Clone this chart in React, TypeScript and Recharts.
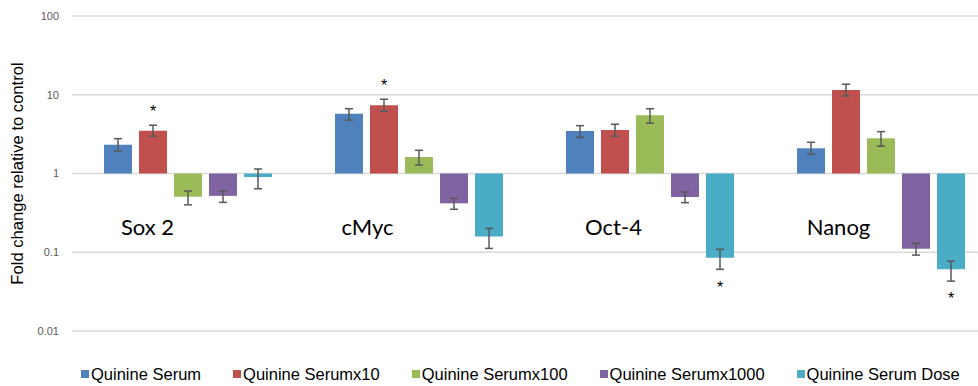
import React from 'react';
import {
  BarChart,
  Bar,
  XAxis,
  YAxis,
  CartesianGrid,
  ErrorBar,
  LabelList,
  Legend,
  ReferenceDot,
} from 'recharts';

// gene panels along the x axis
const genes = ['Sox 2', 'cMyc', 'Oct-4', 'Nanog'];

// fold change vs control, with lower / upper error limits
const serum = [2.32, 5.75, 3.46, 2.09];
const serumLow = [1.93, 4.74, 2.88, 1.75];
const serumHigh = [2.77, 6.65, 4.05, 2.49];

const serumX10 = [3.5, 7.35, 3.57, 11.5];
const serumX10Low = [2.97, 6.17, 2.97, 9.66];
const serumX10High = [4.1, 8.77, 4.22, 13.6];

const serumX100 = [0.507, 1.62, 5.49, 2.8];
const serumX100Low = [0.4, 1.28, 4.35, 2.22];
const serumX100High = [0.6, 1.97, 6.65, 3.4];

const serumX1000 = [0.52, 0.418, 0.503, 0.111];
const serumX1000Low = [0.43, 0.351, 0.426, 0.092];
const serumX1000High = [0.6, 0.484, 0.582, 0.13];

const serumDose = [0.9, 0.159, 0.085, 0.0607];
const serumDoseLow = [0.64, 0.112, 0.0607, 0.043];
const serumDoseHigh = [1.14, 0.201, 0.109, 0.077];

// significance marks
const serumX10Sig = ['*', '*', '', ''];
const serumDoseSig = ['', '', '*', '*'];

const yTicks = [0.01, 0.1, 1, 10, 100];

const series = [
  { key: 'serum', name: 'Quinine Serum', color: '#4f81bd', values: serum, low: serumLow, high: serumHigh },
  { key: 'x10', name: 'Quinine Serumx10', color: '#c0504d', values: serumX10, low: serumX10Low, high: serumX10High, sig: serumX10Sig },
  { key: 'x100', name: 'Quinine Serumx100', color: '#9bbb59', values: serumX100, low: serumX100Low, high: serumX100High },
  { key: 'x1000', name: 'Quinine Serumx1000', color: '#8064a2', values: serumX1000, low: serumX1000Low, high: serumX1000High },
  { key: 'dose', name: 'Quinine Serum Dose', color: '#4bacc6', values: serumDose, low: serumDoseLow, high: serumDoseHigh, sig: serumDoseSig },
];

// bars hang from 1 (no change), so each value is a [1, v] range
const chartData = genes.map((gene, i) => {
  const row: Record<string, any> = { gene };
  series.forEach((s) => {
    const v = s.values[i];
    row[s.key] = [1, v];
    row[`${s.key}Err`] = [v - s.low[i], s.high[i] - v];
    row[`${s.key}Sig`] = s.sig ? s.sig[i] : '';
  });
  return row;
});

// nudges for the gene captions, relative to each category centre
const geneLabelDx = [-40, -51, -36, -42];
const GENE_LABEL_Y = 0.2;

const SANS = '"Liberation Sans", Arial, sans-serif';

const StarLabel = (props: any) => {
  const { value } = props;
  if (!value) return null;
  const vb = props.viewBox || props;
  const x = vb.x + vb.width / 2;
  const top = Math.min(vb.y, vb.y + vb.height);
  const bottom = Math.max(vb.y, vb.y + vb.height);
  // bars below 1 get their star underneath
  const goesDown = vb.height < 0;
  const cy = goesDown ? bottom + 26 : top - 23;
  return (
    <text x={x} y={cy + 9} textAnchor="middle" fontSize={16} fontFamily={SANS} fill="#000">
      *
    </text>
  );
};

// legend keeps the series order instead of sorting by name
const LegendContent = () => (
  <div style={{ display: 'flex', gap: 32, fontFamily: SANS, fontSize: 16.5, lineHeight: '20px', color: '#000' }}>
    {series.map((s) => (
      <div key={s.key} style={{ display: 'flex', alignItems: 'center', whiteSpace: 'nowrap' }}>
        <span style={{ width: 8, height: 8, background: s.color, marginRight: 2, display: 'inline-block' }} />
        <span>{s.name}</span>
      </div>
    ))}
  </div>
);

export default function App() {
  return (
    <div
      style={{
        position: 'absolute',
        left: 0,
        top: 0,
        width: 978,
        height: 386,
        overflow: 'hidden',
        background: '#fff',
      }}
    >
      <BarChart
        width={1000}
        height={386}
        data={chartData}
        margin={{ top: 16, right: 4, left: 0, bottom: 55 }}
        barSize={28}
        barGap={7}
      >
        <CartesianGrid vertical={false} stroke="#d9d9d9" strokeWidth={1.3} />
        <XAxis dataKey="gene" hide />
        <YAxis
          scale="log"
          type="number"
          domain={[0.01, 100]}
          ticks={yTicks}
          allowDataOverflow
          width={72}
          axisLine={false}
          tickLine={false}
          tickSize={6}
          tickMargin={7}
          tick={{ fill: '#595959', fontSize: 11, fontFamily: SANS }}
          label={{
            value: 'Fold change relative to control',
            angle: -90,
            position: 'insideLeft',
            offset: 17.5,
            style: { textAnchor: 'middle', fontSize: 16.6, fill: '#000', fontFamily: SANS },
          }}
        />
        <Legend
          verticalAlign="middle"
          align="center"
          layout="horizontal"
          content={<LegendContent />}
          wrapperStyle={{ top: 364, left: 81, width: 900 }}
        />
        {series.map((s) => (
          <Bar key={s.key} dataKey={s.key} name={s.name} fill={s.color} isAnimationActive={false}>
            <ErrorBar dataKey={`${s.key}Err`} width={4} stroke="#595959" strokeWidth={1.5} />
            {s.sig && <LabelList dataKey={`${s.key}Sig`} content={<StarLabel />} />}
          </Bar>
        ))}
        {genes.map((g, i) => (
          <ReferenceDot
            key={g}
            x={g}
            y={GENE_LABEL_Y}
            r={0}
            ifOverflow="visible"
            shape={(p: any) => (
              <text
                x={p.cx + geneLabelDx[i]}
                y={p.cy + 6}
                textAnchor="middle"
                fontSize={22}
                fontFamily="Lato, 'Open Sans', sans-serif"
                fill="#000"
              >
                {g}
              </text>
            )}
          />
        ))}
      </BarChart>
    </div>
  );
}
